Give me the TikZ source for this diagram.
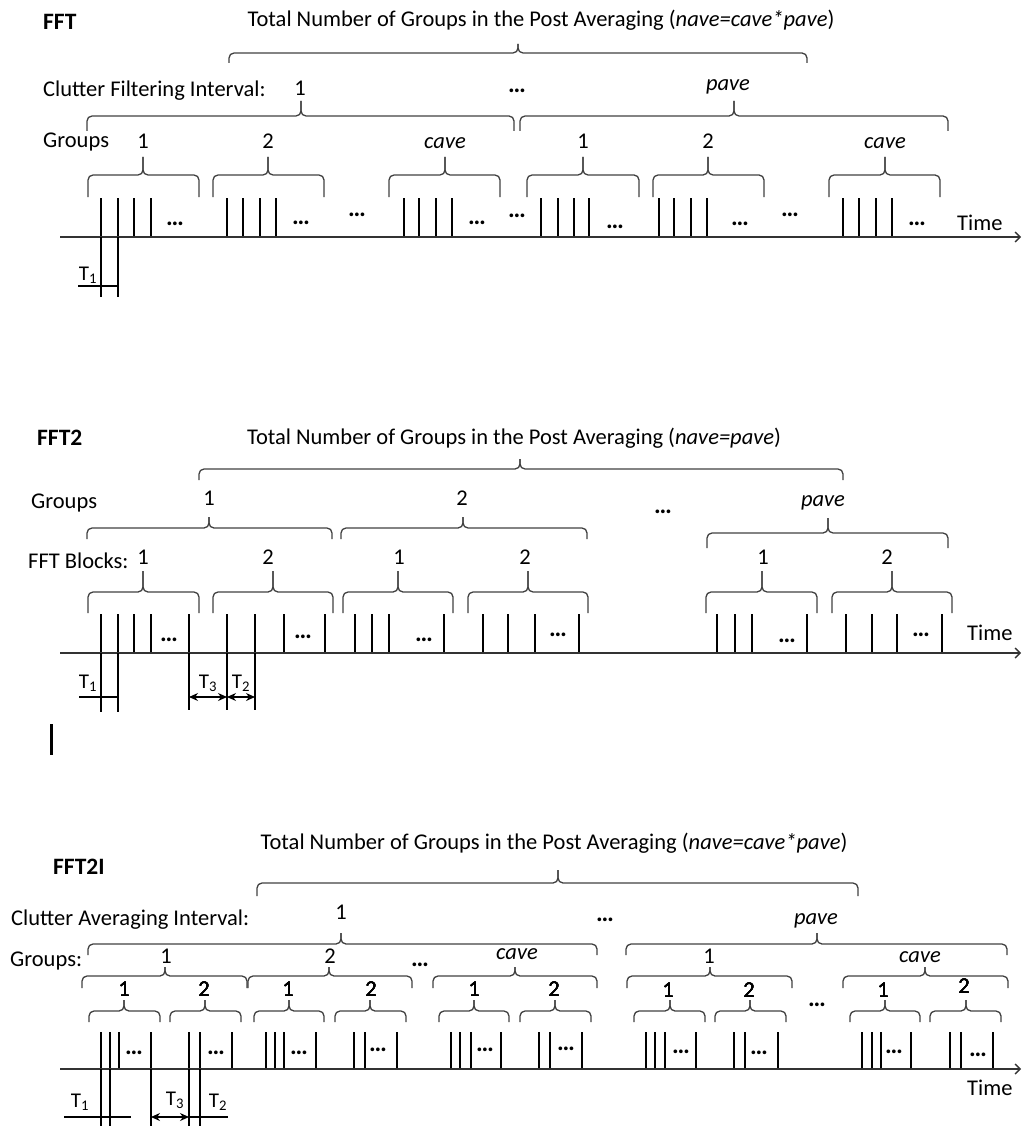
\documentclass[tikz,border=0pt]{standalone}
\usepackage{fontspec}
\setmainfont{Carlito}
\usetikzlibrary{arrows.meta}
\newcommand\mybrace[6]{% x1 x2 xm yt drop rise
  \draw[brc] (#1,#4+#5) -- (#1,#4) -- (#3,#4) -- (#3,#4-#6);
  \draw[brc] (#3,#4-#6) -- (#3,#4) -- (#2,#4) -- (#2,#4+#5);}
\begin{document}
\begin{tikzpicture}[x=1pt,y=-1pt,
  font=\fontsize{22.5}{27}\selectfont,
  lbl/.style={inner sep=0pt, anchor=base},
  lbll/.style={inner sep=0pt, anchor=base west},
  hd/.style={inner sep=0pt, anchor=base west, font=\fontsize{23.5}{28}\selectfont\bfseries},
  dots/.style={inner sep=0pt, anchor=base, font=\fontsize{25}{30}\selectfont\bfseries},
  tl/.style={inner sep=0pt, anchor=base, font=\fontsize{21}{25}\selectfont},
  brc/.style={draw=black!75, line width=1.3pt, rounded corners=5pt},
  pulse/.style={draw=black, line width=1.3pt},
  meas/.style={draw=black, line width=1.1pt},
  axis/.style={draw=black!80, line width=1.4pt, -{Straight Barb[length=5pt,width=10pt]}},
  dim/.style={draw=black, line width=1.1pt, {Stealth[length=9pt,width=8pt]}-{Stealth[length=9pt,width=8pt]}}
]
\useasboundingbox (0,0) rectangle (1022,1126);

%% ================= FFT =================
\node[hd] (fftA) at (43,29.5) {FFT};
\node[lbl] (titA) at (541,27) {Total Number of Groups in the Post Averaging (\textit{nave=cave*pave})};
\mybrace{229}{807}{518}{53}{10}{9}
\node[lbll] (cfiA) at (43,97) {Clutter Filtering Interval:};
\node[lbl] (cfiA1) at (300,96) {1};
\node[dots] (cfiAd) at (517,93) {…};
\node[lbl] (cfiAp) at (728,91) {\textit{pave}};
\mybrace{87}{514}{301}{116}{15}{15}
\mybrace{520}{948}{734}{116}{15}{15}
\node[lbll] (grpA) at (43,148) {Groups};
\foreach \x/\t/\n in {143/1/a,268/2/b,445/\textit{cave}/c,583/1/d,708/2/e,885/\textit{cave}/f}
  \node[lbl] (gA\n) at (\x,149) {\t};
\foreach \a/\b/\m in {88/199/143,213/324/268,389/500/445,527/639/583,653/764/708,829/940/885}
  \mybrace{\a}{\b}{\m}{175}{22}{18}
\foreach \x in {101,118,134,151,227,243,260,276,404,419,436,452,541,558,574,589,659,674,691,707,843,859,876,892}
  \draw[pulse] (\x,198) -- (\x,237);
\foreach \x/\y/\n in {175/225/a,301/224/b,357/216/c,477/224/d,517/217/e,615/228/f,740/225/g,790/216/h,917/225/i}
  \node[dots] (dA\n) at (\x,\y) {…};
\coordinate (axA0) at (60,237);
\coordinate (axA1) at (1021,237);
\draw[axis] (axA0) -- (axA1);
\node[lbll] (timeA) at (957,230) {Time};
\draw[pulse] (101,237) -- (101,297);
\draw[pulse] (118,237) -- (118,297);
\draw[meas] (78,286) -- (118,286);
\node[tl] (t1A) at (88,280) {T\textsubscript{1}};

%% ================= FFT2 =================
\node[hd] (fftB) at (37,445) {FFT2};
\node[lbl] (titB) at (514,444) {Total Number of Groups in the Post Averaging (\textit{nave=pave})};
\mybrace{199}{843}{520}{469}{11}{10}
\node[lbll] (grpB) at (31,508) {Groups};
\node[lbl] (gB1) at (209,505) {1};
\node[lbl] (gB2) at (462,505) {2};
\node[dots] (gBd) at (663,513) {…};
\node[lbl] (gBp) at (823,506) {\textit{pave}};
\mybrace{87}{332}{209}{528}{11}{11}
\mybrace{341}{587}{463}{528}{11}{11}
\mybrace{707}{948}{828}{533}{15}{15}
\node[lbll] (fbB) at (28,568) {FFT Blocks:};
\foreach \x/\t/\n in {143/1/a,268/2/b,399/1/c,525/2/d,763/1/e,887/2/f}
  \node[lbl] (bB\n) at (\x,564) {\t};
\foreach \a/\b/\m in {88/199/143,213/333/273,343/453/398,468/588/528,706/817/762,832/952/892}
  \mybrace{\a}{\b}{\m}{592}{21}{21}
\foreach \x in {101,118,134,151,189,227,255,284,325,355,372,389,444,483,508,535,579,717,735,752,807,846,872,897,942}
  \draw[pulse] (\x,614) -- (\x,653);
\foreach \x/\y/\n in {169/641/a,303/638/b,424/641/c,558/636/d,787/642/e,921/636/f}
  \node[dots] (dB\n) at (\x,\y) {…};
\coordinate (axB0) at (60,653);
\coordinate (axB1) at (1021,653);
\draw[axis] (axB0) -- (axB1);
\node[lbll] (timeB) at (967,640) {Time};
\draw[pulse] (101,653) -- (101,712);
\draw[pulse] (118,653) -- (118,712);
\draw[meas] (79,697) -- (118,697);
\node[tl] (t1B) at (88,688) {T\textsubscript{1}};
\draw[pulse] (189,653) -- (189,710);
\draw[pulse] (227,653) -- (227,710);
\draw[pulse] (255,653) -- (255,710);
\coordinate (t3Ba) at (189,697);
\coordinate (t3Bb) at (227,697);
\coordinate (t2Bb) at (255,697);
\draw[dim] (t3Ba) -- (t3Bb);
\draw[dim] (t3Bb) -- (t2Bb);
\node[tl] (t3B) at (208,688) {T\textsubscript{3}};
\node[tl] (t2B) at (241,688) {T\textsubscript{2}};
\draw[line width=3pt] (51,724) -- (51,755);

%% ================= FFT2I =================
\node[lbl] (titC) at (554,849) {Total Number of Groups in the Post Averaging (\textit{nave=cave*pave})};
\node[hd] (fftC) at (53,874) {FFT2I};
\mybrace{257}{858}{558}{883}{13}{13}
\node[lbll] (caiC) at (11,925) {Clutter Averaging Interval:};
\node[lbl] (caiC1) at (341,919) {1};
\node[dots] (caiCd) at (605,921) {…};
\node[lbl] (caiCp) at (816,924) {\textit{pave}};
\mybrace{88}{597}{341}{944}{11}{11}
\mybrace{626}{1007}{817}{944}{11}{11}
\node[lbll] (grpC) at (10,966) {Groups:};
\foreach \x/\y/\t/\n in {166/963/1/a,330/963/2/b,517/959/\textit{cave}/c,709/963/1/d,920/962/\textit{cave}/e}
  \node[lbl] (gC\n) at (\x,\y) {\t};
\node[dots] (gCd1) at (420,966) {…};
\node[dots] (gCd2) at (817,1006) {…};
\foreach \a/\b/\m in {82/247/165,248/412/329,433/597/515,627/792/710,843/1008/925}
  \mybrace{\a}{\b}{\m}{976}{12}{9}
\foreach \x/\y/\t/\n in {124/996/1/a,204/996/2/b,288/996/1/c,371/996/2/d,474/996/1/e,554/996/2/f,668/997/1/g,749/997/2/h,883/997/1/i,964/993/2/j}
  \node[lbl] (bC\n) at (\x,\y) {\t};
\foreach \a/\b/\m in {89/160/124,170/241/205,254/324/289,335/406/370,439/509/474,520/591/555,634/705/670,715/786/750,850/920/885,930/1001/966}
  \mybrace{\a}{\b}{\m}{1011}{11}{11}
\foreach \x in {101,110,119,151,189,200,232,266,275,284,316,354,365,397,451,460,471,501,539,550,582,646,655,665,696,734,745,778,862,872,881,911,950,961,993}
  \draw[pulse] (\x,1032) -- (\x,1069);
\foreach \x/\y/\n in {134/1054/a,216/1054/b,299/1054/c,378/1051/d,485/1051/e,566/1050/f,681/1053/g,759/1054/h,894/1053/i,978/1056/j}
  \node[dots] (dC\n) at (\x,\y) {…};
\coordinate (axC0) at (60,1069);
\coordinate (axC1) at (1021,1069);
\draw[axis] (axC0) -- (axC1);
\node[lbll] (timeC) at (967,1095) {Time};
\draw[pulse] (101,1069) -- (101,1126);
\draw[pulse] (110,1069) -- (110,1126);
\draw[meas] (64,1117) -- (131,1117);
\node[tl] (t1C) at (80,1107) {T\textsubscript{1}};
\draw[pulse] (151,1069) -- (151,1126);
\draw[pulse] (189,1069) -- (189,1126);
\draw[pulse] (200,1069) -- (200,1126);
\coordinate (t3Ca) at (151,1117);
\coordinate (t3Cb) at (189,1117);
\coordinate (t2Cb) at (228,1117);
\draw[dim] (t3Ca) -- (t3Cb);
\draw[meas] (t3Cb) -- (t2Cb);
\node[tl] (t3C) at (175,1105) {T\textsubscript{3}};
\node[tl] (t2C) at (218,1107) {T\textsubscript{2}};
\end{tikzpicture}
\end{document}
